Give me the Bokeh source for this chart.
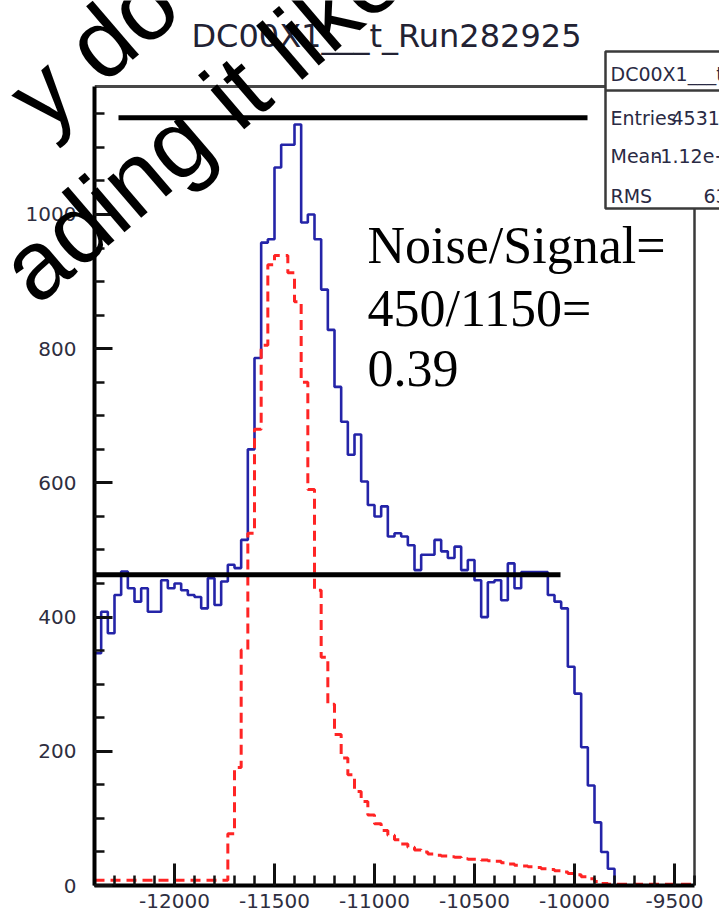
import numpy as np
from bokeh.plotting import figure
from bokeh.layouts import row
from bokeh.models import Range1d, FixedTicker
from bokeh.core.properties import value
from bokeh.embed import file_html
from bokeh.resources import INLINE

# ---------------- data ----------------
x_min, x_max = -12400.0, -9400.0
n_bins = 90

blue_counts = [
    346, 408, 376, 433, 468, 443, 423, 443, 408, 408,
    455, 443, 450, 440, 433, 430, 413, 458, 418, 453,
    478, 473, 515, 650, 786, 958, 963, 1070, 1104, 1104,
    1134, 988, 1000, 963, 888, 828, 743, 691, 642, 672,
    602, 567, 550, 565, 520, 525, 520, 507, 470, 493,
    493, 515, 498, 488, 505, 470, 485, 455, 400, 452,
    455, 425, 480, 443, 467, 467, 467, 467, 433, 423,
    413, 326, 286, 206, 149, 94, 50, 25, 0, 0,
    0, 0, 0, 0, 0, 0, 0, 0, 0, 0,
]

red_counts = [
    8, 8, 8, 8, 8, 8, 8, 8, 8, 8,
    8, 8, 8, 8, 8, 8, 8, 8, 8, 8,
    77, 176, 351, 525, 680, 805, 925, 939, 939, 913,
    870, 750, 590, 440, 340, 270, 225, 190, 165, 140,
    125, 105, 92, 82, 75, 68, 62, 57, 53, 50,
    47, 45, 44, 43, 42, 40, 39, 39, 38, 37,
    36, 34, 32, 30, 29, 28, 27, 25, 24, 22,
    20, 18, 16, 13, 10, 6, 3, 2, 2, 2,
    2, 2, 2, 2, 2, 2, 2, 2, 2, 2,
]

x_tick_values = [-12000, -11500, -11000, -10500, -10000, -9500]
x_tick_labels = ["-12000", "-11500", "-11000", "-10500", "-10000", "-9500"]
y_tick_values = [0, 200, 400, 600, 800, 1000]
y_tick_labels = ["0", "200", "400", "600", "800", "1000"]
y_frame_max = 1190.7

signal_level = 1144
noise_level = 463
signal_line_x = [-12280, -9935]
noise_line_x = [-12420, -10070]

hist_title = "DC00X1___t_Run282925"
stats_name = "DC00X1___t_Run282925"
stats_labels = ["Entries", "Mean", "RMS"]
stats_values = ["45311", "-1.12e+04", "630.5"]
note_lines = ["Noise/Signal=", "450/1150=", "0.39"]
watermark_lines = ["y do", "ading it like"]

# ---------------- layout ----------------
W, H = 719, 917
FL, FB = 94, 885                 # frame left / bottom in pixels
KX = 600.0 / (x_max - x_min)     # px per x unit
KY = (FB - 86) / y_frame_max     # px per y unit
x_end = x_min + (W - FL) / KX
y_end = FB / KY


def dx(px):
    return x_min + (px - FL) / KX


def dy(py):
    return (FB - py) / KY


p = figure(width=W, height=H, title=None,
           x_range=Range1d(x_min, x_end), y_range=Range1d(0, y_end),
           output_backend="svg", toolbar_location=None,
           min_border_left=FL, min_border_right=0,
           min_border_top=0, min_border_bottom=H - FB)
p.outline_line_color = None
p.xgrid.visible = False
p.ygrid.visible = False
p.background_fill_color = "white"
p.border_fill_color = "white"

label_color = "#2e2e40"
for ax in (p.xaxis[0], p.yaxis[0]):
    ax.axis_line_color = "black"
    ax.axis_line_width = 4
    ax.major_tick_line_color = "#111111"
    ax.minor_tick_line_color = "#111111"
    ax.major_tick_line_width = 3
    ax.minor_tick_line_width = 2.5
    ax.major_tick_out = 0
    ax.minor_tick_out = 0
    ax.minor_tick_in = 10
    ax.major_label_text_font = "DejaVu Sans"
    ax.major_label_text_font_size = "20px"
    ax.major_label_text_color = label_color

p.xaxis.ticker = FixedTicker(ticks=x_tick_values,
                             minor_ticks=list(np.arange(x_min, x_max + 1, 100)))
p.yaxis.ticker = FixedTicker(ticks=y_tick_values,
                             minor_ticks=list(np.arange(0, 1151, 50)))
p.xaxis.major_label_overrides = {float(v): s for v, s in zip(x_tick_values, x_tick_labels)}
p.yaxis.major_label_overrides = {float(v): s for v, s in zip(y_tick_values, y_tick_labels)}
p.xaxis.bounds = (x_min, x_max)
p.yaxis.bounds = (0, y_frame_max)
p.xaxis.major_tick_in = 22
p.yaxis.major_tick_in = 18
p.xaxis.major_label_standoff = 8
p.yaxis.major_label_standoff = 18

# frame (top and right)
p.line([x_min, x_max], [y_frame_max, y_frame_max], line_color="#474747", line_width=3)
p.line([x_max, x_max], [0, y_frame_max], line_color="#3a3a3a", line_width=2.5)

# histograms
edges = np.linspace(x_min, x_max, n_bins + 1)
blue_y = list(blue_counts) + [blue_counts[-1]]
red_y = list(red_counts) + [red_counts[-1]]
p.step(edges, blue_y, mode="after", line_color="#2424a8", line_width=2.6)
p.step(edges, red_y, mode="after", line_color="#ff2424", line_width=3,
       line_dash="10 6")

# signal / noise reference lines
p.line(signal_line_x, [signal_level, signal_level], line_color="black", line_width=5)
p.line(noise_line_x, [noise_level, noise_level], line_color="black", line_width=5)

# annotation text
note_baselines = [245, 308, 368]
p.text(x=[dx(367)] * 3, y=[dy(b) for b in note_baselines], text=note_lines,
       text_font=value("Liberation Serif"), text_font_size="52px",
       text_color="black", text_baseline="alphabetic", text_align="left")

# title
p.text(x=[dx(386)], y=[dy(35)], text=[hist_title],
       text_font=value("DejaVu Sans"), text_font_size="32px",
       text_color="#222233", text_baseline="alphabetic", text_align="center")

# stats box
p.quad(left=[dx(605)], right=[dx(780)], top=[dy(51)], bottom=[dy(208)],
       fill_color="white", line_color="#3a3a3a", line_width=2.5)
p.line([dx(605), dx(780)], [dy(90), dy(90)], line_color="#3a3a3a", line_width=2.5)
p.text(x=[dx(610)], y=[dy(73)], text=[stats_name],
       text_font=value("DejaVu Sans"), text_font_size="19px",
       text_color="#2a2a44", text_baseline="alphabetic")
p.text(x=[dx(610)] * 3, y=[dy(117), dy(155), dy(195)], text=stats_labels,
       text_font=value("DejaVu Sans"), text_font_size="19px",
       text_color="#2a2a44", text_baseline="alphabetic")
p.text(x=[dx(671), dx(653), dx(703)], y=[dy(117), dy(155), dy(195)], text=stats_values,
       text_font=value("DejaVu Sans"), text_font_size="19px",
       text_color="#2a2a44", text_baseline="alphabetic")

# ---------------- diagonal watermark: transparent overlay figure ----------------
# In a row the frames are aligned top/bottom, so this frame spans page y 0..FB;
# its x range covers the whole page width (pixel-based coordinates).
wm = figure(width=W, height=H, title=None,
            x_range=Range1d(0, W), y_range=Range1d(H - FB, H),
            output_backend="svg", toolbar_location=None,
            x_axis_location=None, y_axis_location=None,
            min_border_left=0, min_border_right=0,
            min_border_top=0, min_border_bottom=H - FB)
wm.xgrid.visible = False
wm.ygrid.visible = False
wm.outline_line_color = None
wm.background_fill_color = None
wm.border_fill_color = None
wm_angle = np.deg2rad(40.6)
wm_anchor_x = [22, 14]
wm_anchor_y = [H - 109, H - 281]
wm.text(x=wm_anchor_x, y=wm_anchor_y, text=watermark_lines, angle=wm_angle,
        text_font=value("Liberation Sans"), text_font_size="98px",
        text_color="black", text_baseline="alphabetic", text_align="left")
wm.margin = (0, 0, 0, -W)

page = row(p, wm, spacing=0)
open("out.html", "w").write(file_html(page, INLINE))
